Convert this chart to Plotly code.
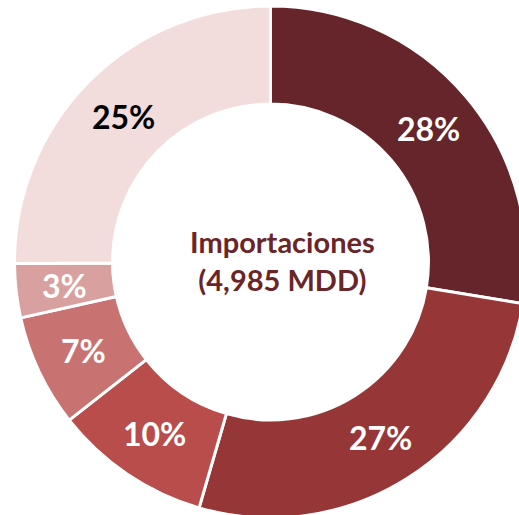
import math
import plotly.graph_objects as go

labels = ["A", "B", "C", "D", "E", "F"]
values = [27.6, 26.9, 9.9, 7.1, 3.4, 25.1]
colors = ["#65252A", "#973637", "#B84D4B", "#C87371", "#D9A0A0", "#F2DCDC"]
text_colors = ["white", "white", "white", "white", "white", "black"]
center_title = "Importaciones"
center_sub = "(4,985 MDD)"

W, H = 530, 522
CX, CY, R_OUT, HOLE = 270.5, 262, 256, 0.617

fig = go.Figure(go.Pie(
    labels=labels,
    values=values,
    hole=HOLE,
    sort=False,
    direction="clockwise",
    rotation=0,
    marker=dict(colors=colors, line=dict(color="white", width=3)),
    textinfo="none",
    domain=dict(x=[(CX - R_OUT) / W, (CX + R_OUT) / W],
                y=[1 - (CY + R_OUT) / H, 1 - (CY - R_OUT) / H]),
    showlegend=False,
    hoverinfo="none",
))

# percentage labels placed at each slice's mid-angle, in the middle of the ring
total = sum(values)
r_lab = R_OUT * (1 + HOLE) / 2
cum = 0.0
for v, tc in zip(values, text_colors):
    mid = (cum + v / 2) / total * 2 * math.pi
    cum += v
    px = CX + r_lab * math.sin(mid)
    py = CY - r_lab * math.cos(mid)
    fig.add_annotation(
        x=px / W, y=1 - py / H, xref="paper", yref="paper",
        text=f"<b>{round(v / total * 100)}%</b>",
        showarrow=False, xanchor="center", yanchor="middle",
        font=dict(family="Lato", size=32, color=tc),
    )

fig.add_annotation(
    x=282 / W, y=1 - 260 / H, xref="paper", yref="paper",
    text=f"<b>{center_title}</b><br><b>{center_sub}</b>",
    showarrow=False,
    font=dict(family="Lato", size=29, color="#6A2529"),
    align="center",
)

fig.update_layout(
    width=W, height=H,
    margin=dict(l=0, r=0, t=0, b=0),
    paper_bgcolor="white",
    plot_bgcolor="white",
)

fig.write_html(
    "out.html",
    config={"displayModeBar": False},
    post_script="document.body.style.margin='0';document.body.style.overflow='hidden';",
)
